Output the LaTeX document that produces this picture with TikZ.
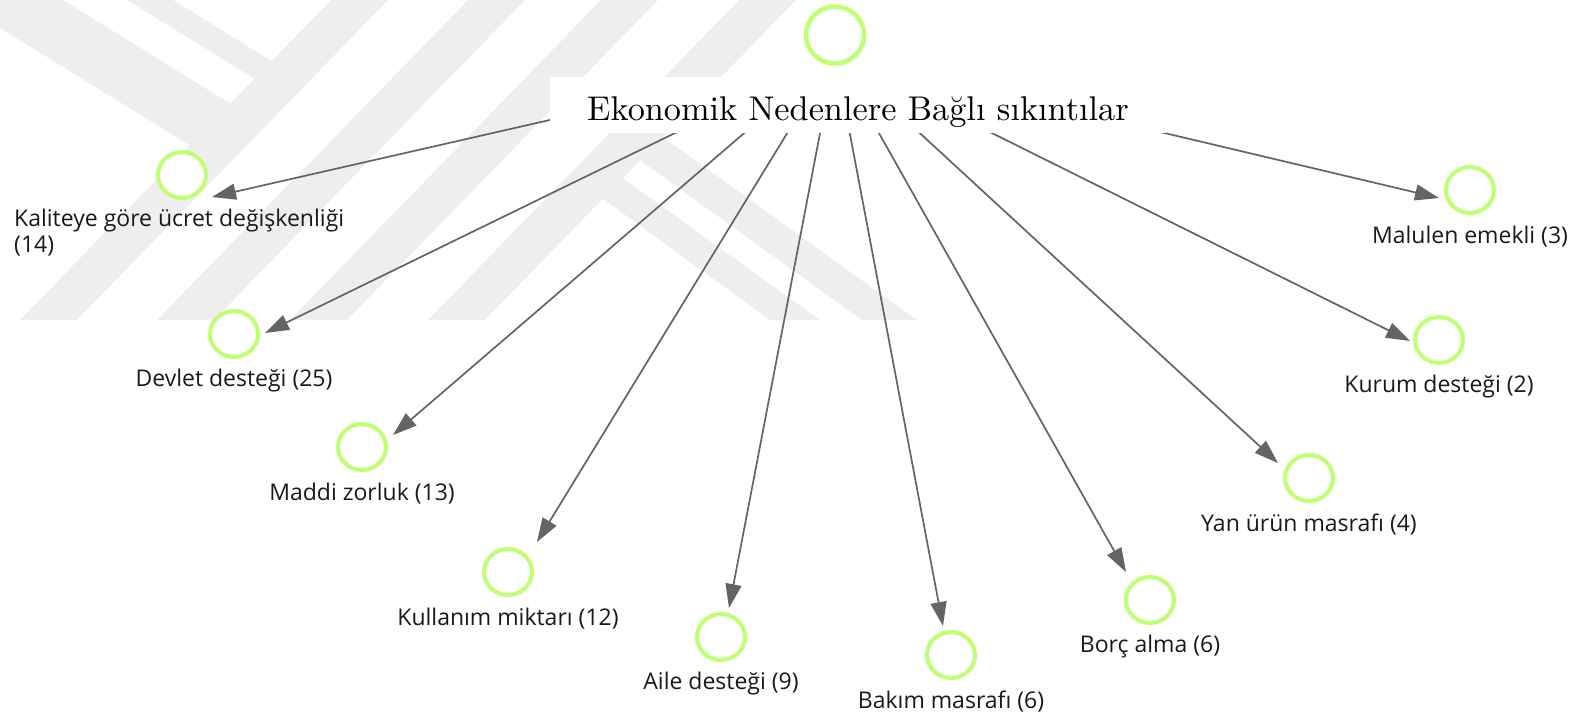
\documentclass[tikz,border=0pt]{standalone}
\usepackage{fontspec}
\newfontfamily\lblfont{Open Sans}
\newfontfamily\titlefont{lmroman10-regular}[Extension=.otf]
\usetikzlibrary{shapes.geometric,arrows.meta}
\definecolor{wm}{RGB}{238,238,238}
\definecolor{nodegreen}{RGB}{190,255,115}
\definecolor{edgegray}{RGB}{100,100,100}
\begin{document}
\begin{tikzpicture}[x=1pt,y=-1pt,
  nd/.style={ellipse, draw=nodegreen, line width=4pt, fill=white, minimum width=48pt, minimum height=46pt, inner sep=0pt},
  rootnd/.style={nd, minimum width=58pt, minimum height=57pt, line width=4.5pt},
  lbl/.style={font=\lblfont\fontsize{23}{26}\selectfont, inner sep=0pt, text=black!90},
  edge/.style={draw=edgegray, line width=1.7pt, -{Triangle[length=24pt,width=16pt,fill=edgegray]}},
]
\useasboundingbox (0,0) rectangle (1579,721);
% watermark
\begin{scope}
  \clip (0,0) rectangle (930,320);
  \fill[wm] (20,320) -- (331,0) -- (388,0) -- (77,320) -- cycle;
  \fill[wm] (157,320) -- (468,0) -- (525,0) -- (214,320) -- cycle;
  \fill[wm] (290,320) -- (601,0) -- (658,0) -- (347,320) -- cycle;
  \fill[wm] (428,320) -- (739,0) -- (796,0) -- (485,320) -- cycle;
  \fill[wm] (0,0) -- (63,0) -- (247,114) -- (207,156) -- (0,28) -- cycle;
  \fill[wm] (127,0) -- (173,0) -- (289,72) -- (271,89) -- cycle;
  \fill[wm] (595,193) -- (770,320) -- (820,320) -- (610,169) -- cycle;
  \fill[wm] (630,153) -- (862,320) -- (917,320) -- (660,135) -- cycle;
\end{scope}
% coordinates
\coordinate (hub) at (835,55);
\coordinate (t1) at (212,197);
\coordinate (t2) at (265,333);
\coordinate (t3) at (393,435);
\coordinate (t4) at (537,542);
\coordinate (t5) at (729,608);
\coordinate (t6) at (943,626);
\coordinate (t7) at (1126,572);
\coordinate (t8) at (1278,463);
\coordinate (t9) at (1410,341);
\coordinate (t10) at (1439,198);
% edges
\begin{scope}
  \clip (-10,-10) -- (1600,-10) -- (1600,740) -- (-10,740) -- cycle
        (550,-20) -- (550,133) -- (1166,133) -- (1166,-20) -- cycle;
  \draw[edge] (hub) -- (t1);
  \draw[edge] (hub) -- (t2);
  \draw[edge] (hub) -- (t3);
  \draw[edge] (hub) -- (t4);
  \draw[edge] (hub) -- (t5);
  \draw[edge] (hub) -- (t6);
  \draw[edge] (hub) -- (t7);
  \draw[edge] (hub) -- (t8);
  \draw[edge] (hub) -- (t9);
  \draw[edge] (hub) -- (t10);
\end{scope}
% title
\node[fill=white, minimum width=616pt, minimum height=56pt, inner sep=0pt] (titlebox) at (858,105) {};
\node[anchor=base, inner sep=0pt, font=\titlefont\fontsize{34.3}{40}\selectfont] (title) at (858,120) {Ekonomik Nedenlere Bağlı sıkıntılar};
\node[rootnd] (root) at (835,35) {};
% targets
\node[nd] (c1) at (182,175) {};
\node[lbl, align=left, anchor=north west] (l1) at (14,209) {Kaliteye göre ücret değişkenliği\\(14)};
\node[nd] (c2) at (234,334) {};
\node[lbl] (l2) at (234,381) {Devlet desteği (25)};
\node[nd] (c3) at (362,447) {};
\node[lbl] (l3) at (362,494) {Maddi zorluk (13)};
\node[nd] (c4) at (508,572) {};
\node[lbl] (l4) at (508,619) {Kullanım miktarı (12)};
\node[nd] (c5) at (721,637) {};
\node[lbl] (l5) at (721,684) {Aile desteği (9)};
\node[nd] (c6) at (951,655) {};
\node[lbl] (l6) at (951,702) {Bakım masrafı (6)};
\node[nd] (c7) at (1150,600) {};
\node[lbl] (l7) at (1150,647) {Borç alma (6)};
\node[nd] (c8) at (1309,478) {};
\node[lbl] (l8) at (1309,525) {Yan ürün masrafı (4)};
\node[nd] (c9) at (1439,340) {};
\node[lbl] (l9) at (1439,387) {Kurum desteği (2)};
\node[nd] (c10) at (1470,190) {};
\node[lbl] (l10) at (1470,237) {Malulen emekli (3)};
\end{tikzpicture}
\end{document}
